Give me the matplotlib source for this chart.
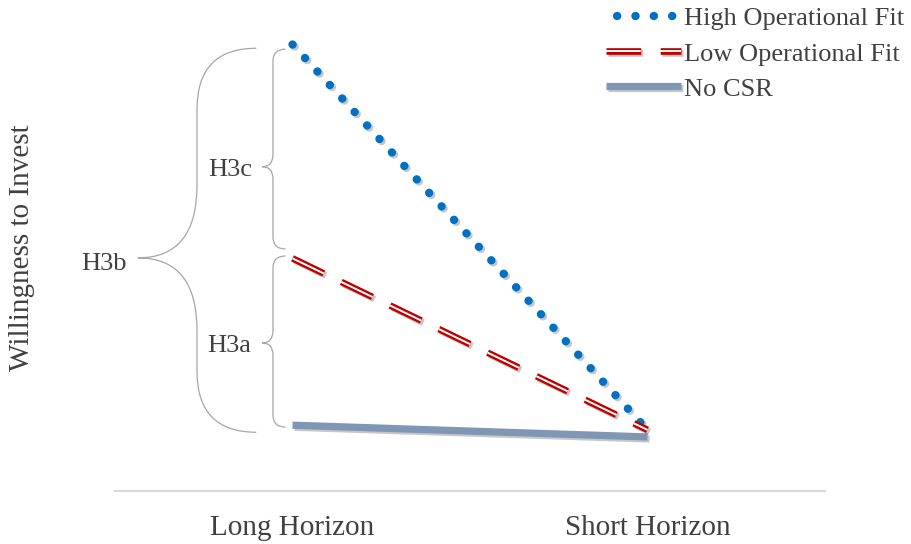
import matplotlib
matplotlib.use("Agg")
import matplotlib.pyplot as plt
import matplotlib.patheffects as pe
from matplotlib.path import Path
from matplotlib.patches import PathPatch
from matplotlib.lines import Line2D

plt.rcParams['font.family'] = ['Liberation Serif', 'DejaVu Serif']
plt.rcParams['lines.scale_dashes'] = False

# data
horizons = ["Long Horizon", "Short Horizon"]
x_pos = [0.5, 1.5]
high_fit = [9.5, 1.3]
low_fit = [4.95, 1.3]
no_csr = [1.4, 1.15]

TEXT = "#404040"
BRACE = "#A6A6A6"
W, H = 912, 544


def px(x, y):
    """pixel (top-left origin) -> figure fraction"""
    return x / W, 1 - y / H


def brace(ax, x_end, x_spine, x_tip, y_top, y_bot, y_tip, r_end, r_tip):
    verts = [
        (x_end, y_top),
        (x_spine, y_top), (x_spine, y_top - r_end),
        (x_spine, y_tip + r_tip),
        (x_spine, y_tip), (x_tip, y_tip),
        (x_spine, y_tip), (x_spine, y_tip - r_tip),
        (x_spine, y_bot + r_end),
        (x_spine, y_bot), (x_end, y_bot),
    ]
    codes = [Path.MOVETO,
             Path.CURVE3, Path.CURVE3,
             Path.LINETO,
             Path.CURVE3, Path.CURVE3,
             Path.CURVE3, Path.CURVE3,
             Path.LINETO,
             Path.CURVE3, Path.CURVE3]
    ax.add_patch(PathPatch(Path(verts, codes), fill=False, edgecolor=BRACE,
                           lw=0.9, clip_on=False))


fig = plt.figure(figsize=(W / 100, H / 100), dpi=100)
ax = fig.add_axes([115 / W, 53 / H, 710 / W, 470 / H])
ax.set_xlim(0, 2)
ax.set_ylim(0, 10)

shadow = [pe.SimpleLineShadow(offset=(1.5, -1.5), alpha=0.22), pe.Normal()]

h_high, = ax.plot(x_pos, high_fit, color="#0070C0", lw=6, dashes=(0.1, 13.1),
                  dash_capstyle='round', path_effects=shadow, zorder=3)
h_low1, = ax.plot(x_pos, low_fit, color="#C00000", lw=4.8, dashes=(25, 14),
                  dash_capstyle='butt', path_effects=shadow, zorder=3)
h_low2, = ax.plot(x_pos, low_fit, color="white", lw=1.4, dashes=(25, 14),
                  dash_capstyle='butt', zorder=3)
h_none, = ax.plot(x_pos, no_csr, color="#7F96B4", lw=5.2,
                  solid_capstyle='butt', path_effects=shadow, zorder=2)

# legend proxy for the dotted line, so the dots sit like the reference
leg_high = Line2D([], [], color="#0070C0", lw=6,
                  linestyle=(5.2, (0.1, 13.1)), dash_capstyle='round')

# braces (x in data units, y from the line values)
brace(ax, 0.48, 0.445, 0.414, 9.4, 5.15, 6.9, 0.26, 0.26)
brace(ax, 0.48, 0.445, 0.414, 5.0, 1.36, 3.15, 0.26, 0.26)
brace(ax, 0.398, 0.231, 0.065, 9.42, 1.25, 4.96, 1.3, 1.55)
ax.text(0.325, 6.83, "H3c", ha='center', va='center', fontsize=19, color=TEXT)
ax.text(0.322, 3.08, "H3a", ha='center', va='center', fontsize=19, color=TEXT)
ax.text(-0.03, 4.82, "H3b", ha='center', va='center', fontsize=19, color=TEXT,
        clip_on=False)

for s in ["top", "right", "left"]:
    ax.spines[s].set_visible(False)
ax.spines["bottom"].set_color("#D9D9D9")
ax.spines["bottom"].set_linewidth(1.5)
ax.set_yticks([])
ax.set_xticks(x_pos, horizons)
ax.tick_params(axis='x', length=0, pad=17.5, labelsize=21, labelcolor=TEXT)

fig.text(*px(22, 248), "Willingness to Invest", rotation=90, ha='center',
         va='center', fontsize=21, color=TEXT)

fig.legend([leg_high, (h_low1, h_low2), h_none],
           ["High Operational Fit", "Low Operational Fit", "No CSR"],
           loc='upper left', bbox_to_anchor=px(606, 7), frameon=False,
           fontsize=19, handlelength=2.85, handletextpad=0.12,
           labelspacing=0.44, borderpad=0, borderaxespad=0, labelcolor=TEXT)

fig.savefig("out.png", dpi=100)
